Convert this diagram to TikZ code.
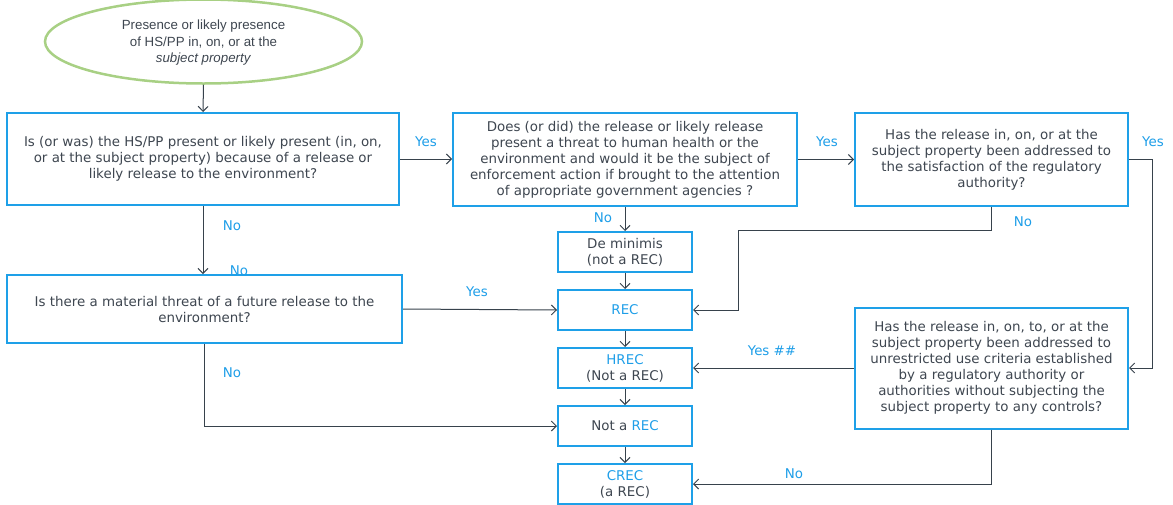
\documentclass[tikz,border=0pt]{standalone}
\usepackage{fontspec}
\setmainfont{DejaVu Sans}
\newfontfamily\arialf{Liberation Sans}
\usetikzlibrary{arrows.meta,shapes.geometric}
\definecolor{boxblue}{RGB}{30,160,232}
\definecolor{lblblue}{RGB}{30,158,232}
\definecolor{txtgray}{RGB}{62,70,80}
\definecolor{linegray}{RGB}{55,66,76}
\definecolor{ellgreen}{RGB}{168,208,132}
\tikzset{
  qbox/.style={draw=boxblue, line width=2pt, align=center, text=txtgray,
    font=\fontsize{13.4}{16}\selectfont, inner sep=0pt},
  rbox/.style={qbox, minimum width=134pt, minimum height=40pt},
  conn/.style={draw=linegray, line width=1pt, -{Straight Barb[length=5pt,width=10pt]}},
  lbl/.style={text=lblblue, font=\fontsize{13.4}{15}\selectfont, inner sep=0pt},
}
\begin{document}
\begin{tikzpicture}[x=1pt,y=-1pt]
\useasboundingbox (0,0) rectangle (1173,504);
% start ellipse
\node[ellipse, draw=ellgreen, line width=2.5pt, minimum width=317pt, minimum height=84pt,
  text=txtgray, inner sep=0pt] (ell) at (203.5,41.5) {};
\node[align=center, text=txtgray, font=\arialf\fontsize{13.3}{16.5}\selectfont, inner sep=0pt]
  (elltxt) at (203.5,43) {Presence or likely presence\\of HS/PP in, on, or at the\\\textit{subject property}};
% question boxes
\node[qbox, minimum width=392pt, minimum height=92pt] (b1) at (203,159)
  {Is (or was) the HS/PP present or likely present (in, on,\\or at the subject property) because of a release or\\likely release to the environment?};
\node[qbox, minimum width=344pt, minimum height=93pt] (b2) at (625,159.5)
  {Does (or did) the release or likely release\\present a threat to human health or the\\environment and would it be the subject of\\enforcement action if brought to the attention\\of appropriate government agencies ?};
\node[qbox, minimum width=273pt, minimum height=93pt] (b3) at (991.5,159.5)
  {Has the release in, on, or at the\\subject property been addressed to\\the satisfaction of the regulatory\\authority?};
\node[qbox, minimum width=395pt, minimum height=68pt] (b4) at (204.5,309)
  {Is there a material threat of a future release to the\\environment?};
\node[qbox, minimum width=273pt, minimum height=121pt] (b5) at (991.5,368)
  {Has the release in, on, to, or at the\\subject property been addressed to\\unrestricted use criteria established\\by a regulatory authority or\\authorities without subjecting the\\subject property to any controls?};
% result boxes
\node[rbox] (demin) at (625,252) {De minimis\\(not a REC)};
\node[rbox] (rec) at (625,310) {\textcolor{lblblue}{REC}};
\node[rbox] (hrec) at (625,368) {\textcolor{lblblue}{HREC}\\(Not a REC)};
\node[rbox] (notrec) at (625,426) {Not a \textcolor{lblblue}{REC}};
\node[rbox] (crec) at (625,484) {\textcolor{lblblue}{CREC}\\(a REC)};
% helper coordinates
\coordinate (ryes) at (1152,159.5);
\coordinate (nob3a) at (991.5,230);
\coordinate (nob3b) at (738,230);
% connectors
\draw[conn] (ell.south) -- (b1.north);
\draw[conn] (b1.east) -- (b2.west |- b1.east);
\draw[conn] (b2.east) -- (b3.west);
\draw[conn] (b3.east) -- (ryes) |- (b5.east);
\draw[conn] (b3.south) -- (nob3a) -- (nob3b) |- (rec.east);
\draw[conn] (b2.south) -- (demin.north);
\draw[conn] (demin.south) -- (rec.north);
\draw[conn] (rec.south) -- (hrec.north);
\draw[conn] (hrec.south) -- (notrec.north);
\draw[conn] (notrec.south) -- (crec.north);
\draw[conn] (b1.south) -- (b1.south |- b4.north);
\draw[conn] (b4.east) -- (rec.west);
\draw[conn] (b4.south) |- (notrec.west);
\draw[conn] (b5.west) -- (hrec.east);
\draw[conn] (b5.south) |- (crec.east);
% labels
\node[lbl] (l1) at (426,142) {Yes};
\node[lbl] (l2) at (827,142) {Yes};
\node[lbl] (l3) at (1153,142) {Yes};
\node[lbl] (l4) at (603,218) {No};
\node[lbl] (l5) at (1023,222) {No};
\node[lbl] (l6) at (232,226) {No};
\node[lbl] (l7) at (239,271) {No};
\node[lbl] (l8) at (477,292) {Yes};
\node[lbl] (l9) at (232,373) {No};
\node[lbl] (l10) at (772,351) {Yes \#\#};
\node[lbl] (l11) at (794,474) {No};
\end{tikzpicture}
\end{document}
